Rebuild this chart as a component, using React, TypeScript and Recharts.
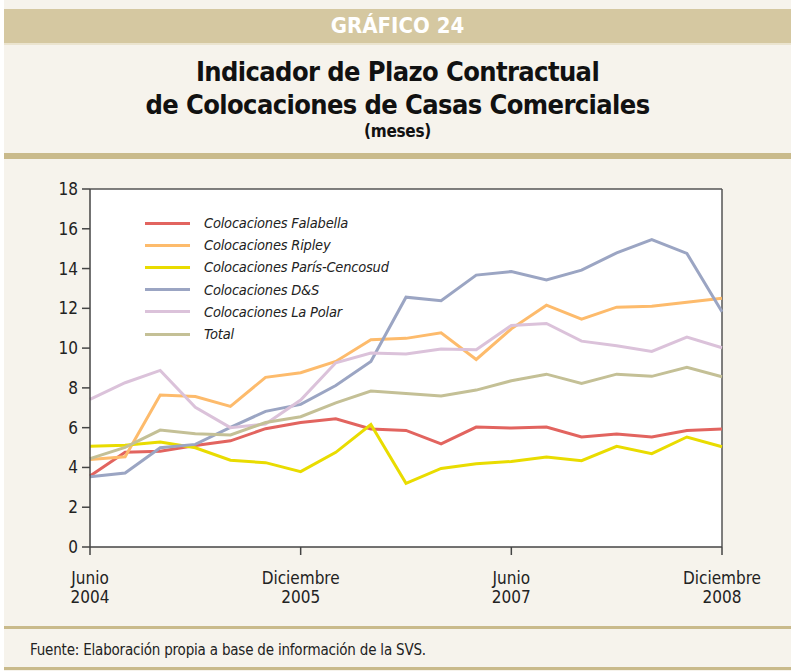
import { LineChart, Line, XAxis, YAxis, CartesianGrid, ReferenceLine } from 'recharts'

// trimestral, junio 2004 - diciembre 2008
const periods = [
  'Junio 2004', 'Septiembre 2004', 'Diciembre 2004', 'Marzo 2005', 'Junio 2005', 'Septiembre 2005',
  'Diciembre 2005', 'Marzo 2006', 'Junio 2006', 'Septiembre 2006', 'Diciembre 2006', 'Marzo 2007',
  'Junio 2007', 'Septiembre 2007', 'Diciembre 2007', 'Marzo 2008', 'Junio 2008', 'Septiembre 2008',
  'Diciembre 2008',
]
const falabella = [3.57, 4.76, 4.82, 5.1, 5.34, 5.95, 6.26, 6.45, 5.93, 5.86, 5.18, 6.03, 5.98, 6.03, 5.53, 5.68, 5.53, 5.86, 5.93]
const ripley = [4.4, 4.54, 7.64, 7.57, 7.07, 8.53, 8.76, 9.33, 10.42, 10.49, 10.77, 9.43, 10.97, 12.16, 11.46, 12.06, 12.11, 12.31, 12.51]
const paris = [5.06, 5.11, 5.28, 4.99, 4.36, 4.24, 3.79, 4.76, 6.16, 3.2, 3.95, 4.19, 4.3, 4.52, 4.34, 5.06, 4.69, 5.53, 5.04]
const dys = [3.53, 3.72, 4.99, 5.16, 6.01, 6.82, 7.17, 8.12, 9.33, 12.56, 12.38, 13.67, 13.85, 13.43, 13.92, 14.79, 15.46, 14.76, 11.83]
const laPolar = [7.42, 8.26, 8.88, 7.02, 6.0, 6.18, 7.39, 9.26, 9.75, 9.7, 9.95, 9.92, 11.14, 11.24, 10.35, 10.12, 9.83, 10.55, 10.02]
const total = [4.44, 5.01, 5.88, 5.7, 5.63, 6.26, 6.55, 7.25, 7.84, 7.72, 7.59, 7.89, 8.36, 8.69, 8.22, 8.69, 8.58, 9.03, 8.56]
const yTicks = [0, 2, 4, 6, 8, 10, 12, 14, 16, 18]

const data = periods.map((p, i) => ({
  period: p,
  falabella: falabella[i],
  ripley: ripley[i],
  paris: paris[i],
  dys: dys[i],
  laPolar: laPolar[i],
  total: total[i],
}))

const series = [
  { key: 'falabella', name: 'Colocaciones Falabella', color: '#e2645f' },
  { key: 'ripley', name: 'Colocaciones Ripley', color: '#fdbb6c' },
  { key: 'paris', name: 'Colocaciones París-Cencosud', color: '#e9dc00' },
  { key: 'dys', name: 'Colocaciones D&S', color: '#9ba5c3' },
  { key: 'laPolar', name: 'Colocaciones La Polar', color: '#dbc2da' },
  { key: 'total', name: 'Total', color: '#c4c096' },
]

const FONT = '"DejaVu Sans Condensed", "DejaVu Sans", sans-serif'
const TAN = '#c9ba8b'

function XTick(props: any) {
  const { x, y, payload } = props
  const [month, year] = String(payload.value).split(' ')
  return (
    <text x={x} y={y} textAnchor="middle" fill="#222" fontSize={17} fontFamily={FONT}>
      <tspan x={x} dy={27}>{month}</tspan>
      <tspan x={x} dy={19}>{year}</tspan>
    </text>
  )
}

export default function App() {
  return (
    <div style={{ position: 'absolute', left: 0, top: 0, width: 791, height: 671, background: '#fff', fontFamily: FONT }}>
      <div style={{ position: 'absolute', left: 4, top: 0, width: 787, height: 671, background: '#f6f3ec' }} />
      <div style={{ position: 'absolute', left: 4, top: 9, width: 787, height: 34, background: '#d5c8a1', borderBottom: '2px solid #ebe4cf' }}>
        <div style={{ textAlign: 'center', color: '#fff', fontWeight: 'bold', fontSize: 22, lineHeight: '34px' }}>GRÁFICO 24</div>
      </div>
      <div style={{ position: 'absolute', left: 4, top: 55, width: 787, textAlign: 'center', color: '#111', fontWeight: 'bold' }}>
        <div style={{ fontSize: 27, lineHeight: '33px', letterSpacing: -0.6 }}>Indicador de Plazo Contractual</div>
        <div style={{ fontSize: 27, lineHeight: '33px', letterSpacing: -0.6 }}>de Colocaciones de Casas Comerciales</div>
        <div style={{ fontSize: 17, lineHeight: '21px', letterSpacing: -0.3 }}>(meses)</div>
      </div>
      <div style={{ position: 'absolute', left: 4, top: 153, width: 787, height: 6, background: TAN }} />

      <div style={{ position: 'absolute', left: 0, top: 0 }}>
        <LineChart width={791} height={671} data={data} margin={{ top: 189, right: 69, bottom: 64, left: 50 }}>
          <CartesianGrid fill="#fff" horizontal={false} vertical={false} />
          <ReferenceLine y={18} stroke="#555" strokeWidth={1.5} />
          <ReferenceLine x="Diciembre 2008" stroke="#555" strokeWidth={1.5} />
          <XAxis
            dataKey="period"
            interval={5}
            height={60}
            tick={<XTick />}
            tickSize={8}
            stroke="#444"
            strokeWidth={1.5}
          />
          <YAxis
            domain={[0, 18]}
            ticks={yTicks}
            width={40}
            tickSize={8}
            tickMargin={4}
            stroke="#444"
            strokeWidth={1.5}
            tick={{ fill: '#222', fontSize: 17, fontFamily: FONT }}
          />
          {series.map((s) => (
            <Line
              key={s.key}
              type="linear"
              dataKey={s.key}
              name={s.name}
              stroke={s.color}
              strokeWidth={3}
              dot={false}
              activeDot={false}
              isAnimationActive={false}
            />
          ))}
        </LineChart>
      </div>

      <div style={{ position: 'absolute', left: 145, top: 212 }}>
        {series.map((s) => (
          <div key={s.key} style={{ display: 'flex', alignItems: 'center', height: 22.2 }}>
            <div style={{ width: 45, height: 3, background: s.color, marginRight: 14 }} />
            <span style={{ fontStyle: 'italic', fontSize: 14.5, color: '#222', letterSpacing: -0.2 }}>{s.name}</span>
          </div>
        ))}
      </div>

      <div style={{ position: 'absolute', left: 4, top: 626, width: 787, height: 3, background: TAN }} />
      <div style={{ position: 'absolute', left: 30, top: 641, fontSize: 15, color: '#222', letterSpacing: -0.2 }}>
        Fuente: Elaboración propia a base de información de la SVS.
      </div>
      <div style={{ position: 'absolute', left: 4, top: 667, width: 787, height: 3, background: TAN }} />
    </div>
  )
}
